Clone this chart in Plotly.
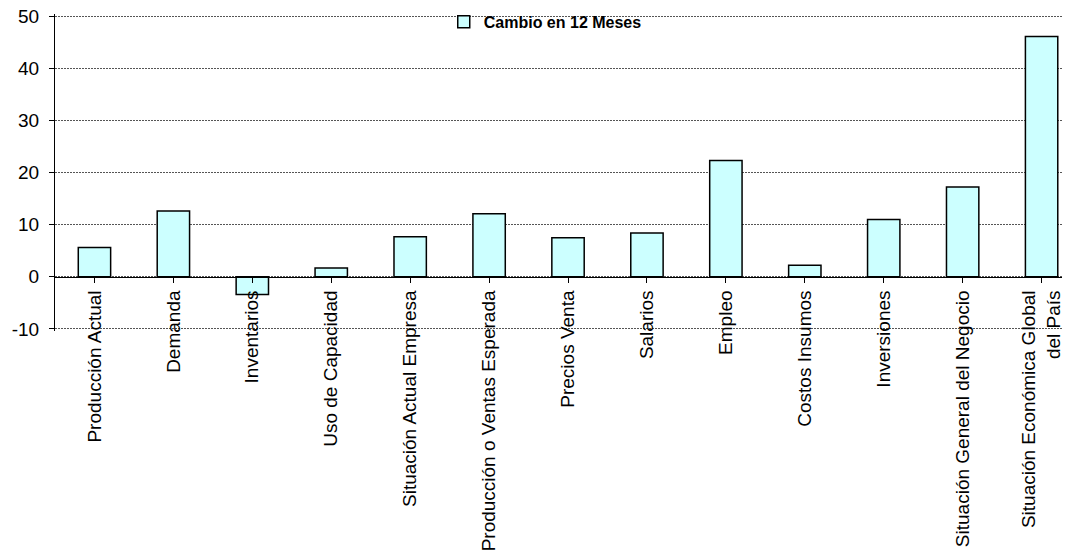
import plotly.graph_objects as go

categories = [
    "Producción Actual",
    "Demanda",
    "Inventarios",
    "Uso de Capacidad",
    "Situación Actual Empresa",
    "Producción o Ventas Esperada",
    "Precios Venta",
    "Salarios",
    "Empleo",
    "Costos Insumos",
    "Inversiones",
    "Situación General del Negocio",
    "Situación Económica Global<br>del País",
]
cambio_12m = [5.6, 12.6, -3.4, 1.7, 7.7, 12.1, 7.5, 8.4, 22.3, 2.2, 11.0, 17.2, 46.1]
series_name = "Cambio en 12 Meses"
y_ticks = [-10, 0, 10, 20, 30, 40, 50]
y_tick_labels = ["-10", "0", "10", "20", "30", "40", "50"]

FONT = "Arial, Liberation Sans, sans-serif"

fig = go.Figure()
fig.add_trace(go.Bar(
    x=list(range(len(categories))),
    y=cambio_12m,
    name=series_name,
    marker=dict(color="#CCFFFF", line=dict(color="black", width=1.5)),
    showlegend=True,
))

y_lo, y_hi = -10.4, 50.4

fig.update_layout(
    width=1062, height=542,
    margin=dict(l=47, r=0, t=6, b=219, autoexpand=False),
    paper_bgcolor="white", plot_bgcolor="white",
    bargap=0.59,
    font=dict(family=FONT, color="black", size=19),
    showlegend=True,
    legend=dict(
        x=0.383, y=1.029, xanchor="left", yanchor="top",
        bgcolor="rgba(0,0,0,0)",
        font=dict(family=FONT, size=16, color="black", weight="bold"),
        itemwidth=30,
    ),
    xaxis=dict(
        range=[-0.5, 12.36],
        tickmode="array",
        tickvals=list(range(len(categories))),
        ticktext=categories,
        tickangle=-90,
        tickfont=dict(family=FONT, size=19, color="black"),
        anchor="free", position=(0 - y_lo) / (y_hi - y_lo),
        showline=True, linecolor="black", linewidth=1.2,
        ticks="outside", tickson="boundaries", ticklen=5, tickcolor="black",
        showgrid=False, zeroline=False, automargin=False,
        ticklabeloverflow="allow",
    ),
    yaxis=dict(
        range=[y_lo, y_hi],
        tickmode="array", tickvals=y_ticks, ticktext=y_tick_labels,
        tickfont=dict(family=FONT, size=19, color="black"),
        showline=True, linecolor="black", linewidth=1.2,
        ticks="outside", ticklen=5, tickcolor="black",
        showgrid=True, gridcolor="#555555", gridwidth=1, griddash="2px,1px",
        zeroline=False, automargin=False,
        ticklabelstandoff=6, ticklabeloverflow="allow",
    ),
)

fig.write_html("out.html")
